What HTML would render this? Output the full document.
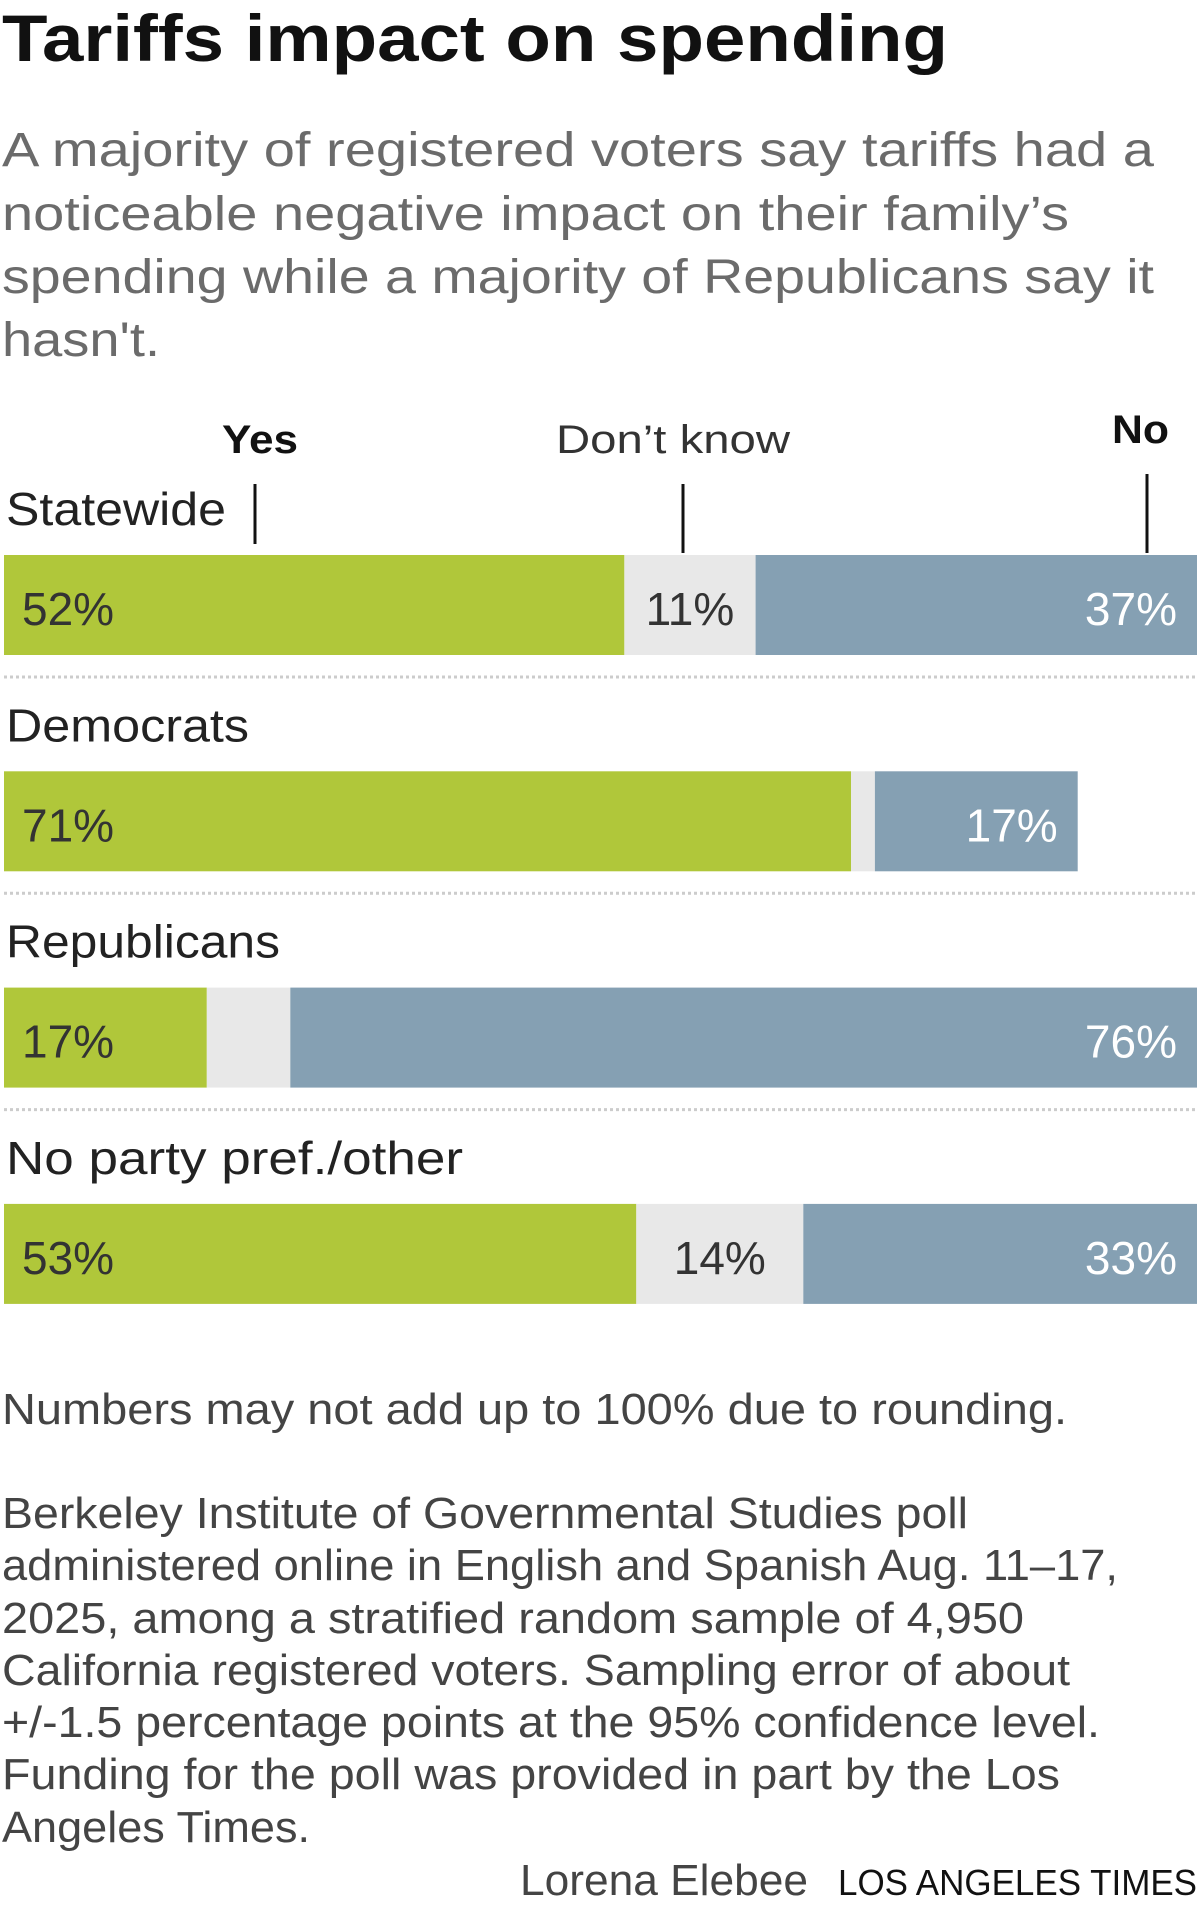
<!DOCTYPE html>
<html><head><meta charset="utf-8"><style>
html,body{margin:0;padding:0;background:#fff;}
svg{display:block;font-family:"Liberation Sans",sans-serif;}
</style></head><body>
<svg id="chart" width="1200" height="1905" viewBox="0 0 1200 1905">
<text x="2" y="61" font-size="66" font-weight="bold" fill="#111" textLength="946" lengthAdjust="spacingAndGlyphs">Tariffs impact on spending</text>
<g fill="#6b6b6b" font-size="48">
<text x="2" y="166" textLength="1152" lengthAdjust="spacingAndGlyphs">A majority of registered voters say tariffs had a</text>
<text x="2" y="230" textLength="1067" lengthAdjust="spacingAndGlyphs">noticeable negative impact on their family’s</text>
<text x="2" y="293" textLength="1152" lengthAdjust="spacingAndGlyphs">spending while a majority of Republicans say it</text>
<text x="2" y="356" textLength="158" lengthAdjust="spacingAndGlyphs">hasn't.</text>
</g>
<g>
<text x="222" y="453" font-size="40" font-weight="bold" fill="#111" textLength="76" lengthAdjust="spacingAndGlyphs">Yes</text>
<text x="556" y="453" font-size="40" fill="#333" textLength="234" lengthAdjust="spacingAndGlyphs">Don’t know</text>
<text x="1112" y="443" font-size="40" font-weight="bold" fill="#111" textLength="57" lengthAdjust="spacingAndGlyphs">No</text>
<line x1="255" y1="484" x2="255" y2="544" stroke="#111" stroke-width="3"/>
<line x1="683" y1="484" x2="683" y2="553" stroke="#111" stroke-width="3"/>
<line x1="1147" y1="474" x2="1147" y2="553" stroke="#111" stroke-width="3"/>
</g>
<g id="bars"></g>
<text x="2" y="1424" font-size="44" fill="#444" textLength="1065" lengthAdjust="spacingAndGlyphs">Numbers may not add up to 100% due to rounding.</text>
<g fill="#444" font-size="44">
<text x="2" y="1528" textLength="966" lengthAdjust="spacingAndGlyphs">Berkeley Institute of Governmental Studies poll</text>
<text x="2" y="1580" textLength="1116" lengthAdjust="spacingAndGlyphs">administered online in English and Spanish Aug. 11–17,</text>
<text x="2" y="1633" textLength="1022" lengthAdjust="spacingAndGlyphs">2025, among a stratified random sample of 4,950</text>
<text x="2" y="1685" textLength="1068" lengthAdjust="spacingAndGlyphs">California registered voters. Sampling error of about</text>
<text x="2" y="1737" textLength="1098" lengthAdjust="spacingAndGlyphs">+/-1.5 percentage points at the 95% confidence level.</text>
<text x="2" y="1789" textLength="1058" lengthAdjust="spacingAndGlyphs">Funding for the poll was provided in part by the Los</text>
<text x="2" y="1842" textLength="308" lengthAdjust="spacingAndGlyphs">Angeles Times.</text>
</g>
<text x="520" y="1895" font-size="44" fill="#444" textLength="288" lengthAdjust="spacingAndGlyphs">Lorena Elebee</text>
<text x="838" y="1895" font-size="36" fill="#111" textLength="359" lengthAdjust="spacingAndGlyphs">LOS ANGELES TIMES</text>
</svg>
<script>
const categories = ["Statewide", "Democrats", "Republicans", "No party pref./other"];
const yesValues = [52, 71, 17, 53];
const dkValues = [11, 2, 7, 14];
const noValues = [37, 17, 76, 33];
const dkLabels = ["11%", "", "", "14%"];
const labelWidths = [220, 243, 274, 457];

const NS = "http://www.w3.org/2000/svg";
const X0 = 4, X1 = 1197;
const xScale = v => (X1 - X0) * v / 100;
const barTop = i => 555 + i * 216.3;
const BAR_H = 100;
const g = document.getElementById("bars");
function mk(tag, attrs) {
  const e = document.createElementNS(NS, tag);
  for (const k in attrs) e.setAttribute(k, attrs[k]);
  return e;
}
categories.forEach((cat, i) => {
  const y = barTop(i);
  const lab = mk("text", {x: 6, y: y - 30, "font-size": 46, fill: "#222", textLength: labelWidths[i], lengthAdjust: "spacingAndGlyphs"});
  lab.textContent = cat;
  
  
  g.appendChild(lab);
  const segs = [[yesValues[i], "#b0c73a"], [dkValues[i], "#e8e8e8"], [noValues[i], "#85a0b3"]];
  let x = X0;
  segs.forEach((s, j) => {
    const w = xScale(s[0]);
    const r = mk("rect", {x: x, y: y, width: w, height: BAR_H, fill: s[1]});
    
    
    g.appendChild(r);
    let t = null;
    if (j === 0) t = mk("text", {x: x + 18, y: y + 70, "font-size": 46, fill: "#333"});
    if (j === 1 && dkLabels[i]) t = mk("text", {x: x + w / 2, y: y + 70, "font-size": 46, fill: "#333", "text-anchor": "middle"});
    if (j === 2) t = mk("text", {x: x + w - 20, y: y + 70, "font-size": 46, fill: "#fff", "text-anchor": "end"});
    if (t) {
      t.textContent = j === 1 ? dkLabels[i] : s[0] + "%";
      
      
      g.appendChild(t);
    }
    x += w;
  });
  if (i < categories.length - 1) {
    const l = mk("line", {x1: X0, x2: X1, y1: y + 122, y2: y + 122, stroke: "#ccc", "stroke-width": 3, "stroke-dasharray": "3 3"});
    
    
    g.appendChild(l);
  }
});
</script>
</body></html>
